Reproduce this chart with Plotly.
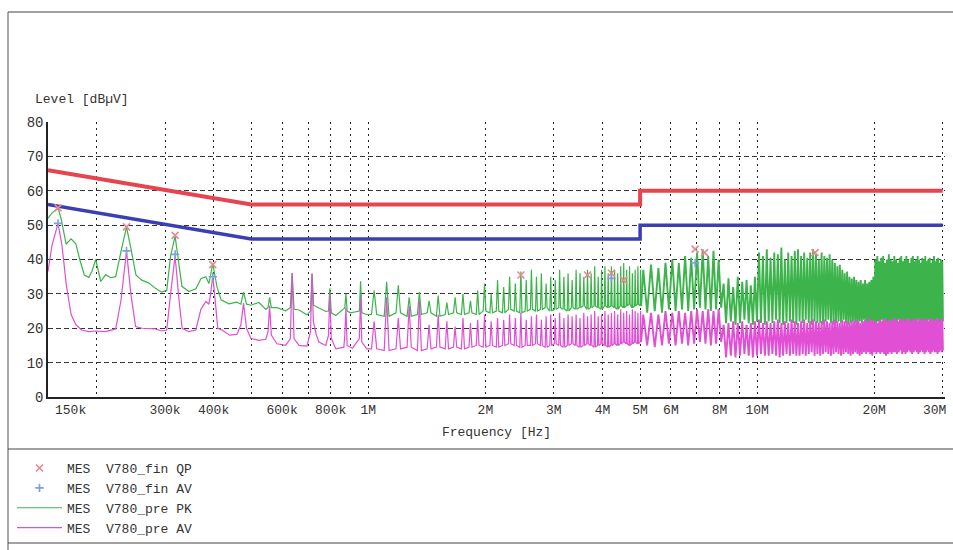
import math
import plotly.graph_objects as go

# ---------------- data ----------------
F0_KHZ = 79.6  # spacing of the interference harmonics (kHz)

# limit lines
limit_freq_khz = [150, 500, 5000, 5000, 30000]
limit_qp_dbuv = [66, 56, 56, 60, 60]
limit_av_dbuv = [56, 46, 46, 50, 50]

# pre-scan PK, low band (150 kHz .. 1 MHz)
pk_low_freq_khz = [150, 153.5, 159.2, 162, 167, 172, 177, 181, 186, 191,
                   194.5, 199, 205, 211, 217.5, 224, 231, 238.8, 245, 252.5,
                   261.5, 272, 283.5, 294, 303, 310, 318.4, 325.5, 331.5, 345.5,
                   360, 371, 382, 389, 398, 408, 418, 438, 459, 470,
                   477.6, 486, 499, 523, 545, 552, 557.2, 563, 582, 613,
                   630, 636.8, 644, 663, 695, 710, 716.4, 723, 746, 777,
                   790, 796, 803, 825, 865, 870, 875.6, 882, 900, 948,
                   955.2, 962, 990]
pk_low_dbuv = [52, 53.5, 55, 52, 44.5, 46, 44.5, 40, 35.5, 34.8,
               36.5, 40, 33.6, 35.6, 34.7, 35, 42.2, 49.4, 43.3, 35.5,
               34, 33.2, 31.6, 30.5, 31, 41, 46.8, 38.9, 32.2, 30.7,
               31.5, 34.4, 35, 33, 38.8, 32.1, 28.3, 27.1, 27.6, 27,
               30.5, 27, 26.7, 27.5, 25.5, 26, 29, 26, 26, 25.1,
               26, 36.1, 25.5, 25.3, 23.9, 25, 36, 26.7, 26, 24.9,
               25, 31.6, 24.5, 23.7, 25.7, 26, 30, 25, 24.5, 25,
               33.7, 24.5, 24]

# pre-scan AV, low band (150 kHz .. 1 MHz)
av_low_freq_khz = [150, 153.5, 159.2, 163, 167, 172, 177, 183, 191, 199,
                   211, 224, 231, 238.8, 245, 252, 262, 283, 294, 303,
                   310, 318.4, 326, 332, 345, 360, 371, 382, 389, 393,
                   398, 403, 410, 420, 440, 459, 470, 477.6, 486, 499,
                   523, 545, 552, 557.2, 563, 582, 613, 630, 636.8, 644,
                   663, 695, 710, 716.4, 722, 735, 746, 777, 790, 796,
                   803, 825, 865, 870, 875.6, 882, 910, 948, 955.2, 962,
                   990]
av_low_dbuv = [36.5, 44, 50.5, 44, 33, 24, 21, 19.5, 19, 19.2,
               19, 19.8, 28, 42.5, 30, 20.5, 20, 19.8, 19.2, 19.5,
               30, 41, 28, 20, 19, 19.5, 25.5, 27.8, 27, 30,
               35.5, 28, 20, 19.5, 18, 18.2, 21, 27.3, 20, 17,
               16.5, 16.8, 19, 26.5, 18, 15.5, 15, 17, 36, 17,
               15, 14.8, 19, 35.8, 22, 18, 16, 15, 18, 30,
               17, 14, 14.5, 18, 26, 15, 14.2, 17, 29, 16,
               14]

# harmonics 13..63 (1 MHz .. 5 MHz): peak and floor per harmonic
comb_orders = list(range(13, 64))
pk_comb_peak = [31, 33.5, 32.5, 29, 30.5, 28, 29.5, 27.5, 29, 30,
                28, 31, 33, 30, 34, 32, 35, 33, 36.5, 34,
                37, 35, 36, 33, 35, 34, 37, 35, 36, 34,
                37, 36, 35, 37, 36, 38, 35, 37, 38, 36,
                38, 37, 36, 38, 39, 37, 38, 36, 37, 38, 37]
pk_comb_floor = [24, 23.5, 24.5, 23.5, 24, 24.5, 23.5, 24, 24.5, 24,
                 24.5, 24, 25, 24.5, 25, 24.5, 25.5, 25, 24.5, 25,
                 25.5, 25, 25.5, 26, 25, 25.5, 26, 25.5, 25, 26,
                 25.5, 26, 26.5, 25.5, 26, 26.5, 26, 25.5, 26.5, 26,
                 26.5, 26, 25.5, 26.5, 26, 26.5, 27, 26, 26.5, 27, 26.5]
av_comb_peak = [22, 29, 23, 26.5, 28, 21, 24, 22, 20.5, 23,
                21.5, 22.5, 24, 22, 23, 22.5, 24, 23, 24.5, 22.5,
                23.5, 24, 22.5, 23.5, 24, 23, 24.5, 23, 24, 23.5,
                24, 23, 24.5, 23.5, 24, 25, 23.5, 24, 25, 24,
                24.5, 25, 24, 25.5, 24.5, 25, 24, 25.5, 25, 24.5, 25]
av_comb_floor = [14, 13.5, 14, 14.5, 13.5, 14, 14.5, 14, 14.5, 14,
                 14.5, 15, 14.5, 15, 14.5, 15, 15.5, 15, 14.5, 15,
                 15, 15.5, 15, 14.5, 15, 15.5, 15, 14.5, 15, 15.5,
                 15, 14.5, 15, 15.5, 15, 14.5, 15, 15.5, 15, 14.5,
                 15, 15.5, 15, 15.5, 16, 15.5, 15, 15.5, 16, 15.5, 16]

# every third harmonic 64..376 (5 MHz .. 30 MHz): peak and floor
dense_orders = list(range(64, 377, 3))
pk_dense_peak = [37, 38.5, 37.5, 39, 40, 39, 41, 40.5, 42, 43, 41, 42.5, 40,
                 33, 34.5, 32, 35, 33.5, 34, 32.5, 35,
                 42, 41, 43, 40.5, 42, 41.5, 43.5, 40, 42, 41, 42.5, 43,
                 41, 42, 40.5, 42, 43, 41.5, 40, 42, 41, 40.5, 41.5, 40,
                 39, 38, 38.5, 37, 36, 36.5, 35, 34.5, 35, 34, 33.5, 34,
                 33, 34, 33, 33.5, 34, 35,
                 40, 41, 39.5, 40.5, 41, 39, 40, 41.5, 40, 39.5,
                 41, 40, 39, 40.5, 41, 39.5, 40, 41, 40, 39,
                 40.5, 41, 39.5, 40, 41, 40, 39, 40.5, 40, 41,
                 39.5, 40, 40.5, 39, 40, 41, 39.5, 40, 40.5, 39,
                 40, 39.5]
pk_dense_floor = [24.5, 25, 24.5, 25.5, 25, 25.5, 25, 25.5, 26, 25.5, 25, 25.5, 26,
                  21.5, 22, 21, 21.5, 22.5, 21.5, 21, 22, 21.5, 21,
                  22, 21.5, 22.5, 21.5, 21, 21.5, 22, 21.5, 21, 22,
                  21.5, 22.5, 21.5, 21, 22, 21.5, 21.5, 21, 22, 22.5,
                  21.5, 21, 21.5, 22, 21.5, 22.5, 21.5, 21, 21.5, 22,
                  21.5, 21, 22, 21.5, 22.5, 21.5, 21, 22, 21.5, 21.5,
                  21, 22, 21.5, 22.5, 21.5, 21, 21.5, 22, 21.5, 21,
                  22, 21.5, 22.5, 22, 21.5, 21, 21.5, 22, 22.5, 21.5,
                  21, 21.5, 22, 21.5, 22.5, 21.5, 21, 22, 21.5, 22,
                  21.5, 22.5, 21.5, 21, 22, 21.5, 22, 22.5, 21.5, 21,
                  21.5, 22]
av_dense_peak = [24, 24.5, 24, 25, 24.5, 25, 24.5, 25, 25.5, 25, 25.5, 25, 25.5,
                 21, 21.5, 22, 21.5, 22, 21, 21.5, 22, 22.5, 21.5,
                 22, 21.5, 22, 22.5, 21.5, 22, 21.5, 22.5, 22, 21.5,
                 22, 22.5, 21.5, 22, 22.5, 22, 21.5, 22, 22.5, 22,
                 21.5, 22, 22.5, 22, 21.5, 22.5, 22, 22, 21.5, 22.5,
                 22, 22.5, 22, 21.5, 22, 22.5, 22, 23, 22, 22.5,
                 22, 21.5, 22.5, 22, 22.5, 23, 22, 22.5, 22, 22.5,
                 23, 22.5, 22, 22.5, 23, 22.5, 22, 22.5, 23, 22.5,
                 22, 22.5, 23, 22.5, 22, 23, 22.5, 22, 22.5, 23,
                 22.5, 22, 22.5, 23, 22.5, 22, 22.5, 23, 22.5, 22,
                 22.5, 23]
av_dense_floor = [15, 14.5, 15, 15.5, 15, 15.5, 15, 15.5, 16, 15.5, 15, 15.5, 16,
                  11.5, 12, 11.5, 12, 12.5, 12, 11.5, 12, 12.5, 12,
                  12, 12.5, 12, 11.5, 12, 12.5, 12, 12.5, 12, 12,
                  12.5, 12, 12.5, 13, 12, 12.5, 12, 12.5, 13, 12.5,
                  12, 12.5, 13, 12.5, 12, 12.5, 13, 12.5, 12, 12.5,
                  13, 12.5, 12, 12.5, 13, 12.5, 13, 12.5, 12, 13,
                  12.5, 13, 12.5, 13, 12.5, 12, 12.5, 13, 12.5, 13,
                  13, 12.5, 13, 13.5, 12.5, 13, 12.5, 13, 13.5, 13,
                  12.5, 13, 13.5, 13, 12.5, 13, 13.5, 13, 12.5, 13,
                  13.5, 13, 12.5, 13, 13.5, 13, 13, 12.5, 13, 13.5,
                  13, 13.5]

# final measurements (markers)
qp_final_freq_khz = [159.2, 238.8, 318.4, 398, 2468, 3662, 4219, 4537, 6925, 7323, 14089]
qp_final_dbuv = [55, 49.5, 47, 38.5, 35.5, 35.5, 36, 34, 43, 42, 42]
av_final_freq_khz = [159.2, 238.8, 318.4, 398, 4219, 6925]
av_final_dbuv = [50.5, 42.5, 41.5, 35, 34.5, 39]

# axis ticks / grid (150k and 30M are drawn as edge labels below)
x_grid_khz = [150, 200, 300, 400, 500, 600, 700, 800, 900, 1000,
              2000, 3000, 4000, 5000, 6000, 7000, 8000, 9000, 10000, 20000, 30000]
x_tick_text = ["", "", "300k", "400k", "", "600k", "", "800k", "", "1M",
               "2M", "3M", "4M", "5M", "6M", "", "8M", "", "10M", "20M", ""]
x_edge_labels = ["150k", "30M"]
y_ticks = [0, 10, 20, 30, 40, 50, 60, 70, 80]


# ---------------- build the traces from the arrays ----------------
def comb_part(low_f, low_v, comb_peak, comb_floor):
    xs, ys = list(low_f), list(low_v)
    for n, p, f in zip(comb_orders, comb_peak, comb_floor):
        xs += [(n - 0.2) * F0_KHZ, n * F0_KHZ, (n + 0.2) * F0_KHZ]
        ys += [f, p, f]
    return xs, ys


def dense_part(start_x, start_y, dense_peak, dense_floor):
    xs, ys = [start_x], [start_y]
    for n, p, f in zip(dense_orders, dense_peak, dense_floor):
        xs += [n * F0_KHZ, (n + 1.5) * F0_KHZ]
        ys += [p, f]
    return xs, ys


pk_x1, pk_y1 = comb_part(pk_low_freq_khz, pk_low_dbuv, pk_comb_peak, pk_comb_floor)
pk_x2, pk_y2 = dense_part(pk_x1[-1], pk_y1[-1], pk_dense_peak, pk_dense_floor)
av_x1, av_y1 = comb_part(av_low_freq_khz, av_low_dbuv, av_comb_peak, av_comb_floor)
av_x2, av_y2 = dense_part(av_x1[-1], av_y1[-1], av_dense_peak, av_dense_floor)

MONO = "Liberation Mono, Courier New, monospace"
GREEN, MAGENTA = "#3cb44b", "#e04fd4"
NB = "\u00a0"
fig = go.Figure()

fig.add_trace(go.Scatter(x=pk_x1, y=pk_y1, mode="lines", name="MES" + NB * 2 + "V780_pre PK",
                         legendgroup="pk", line=dict(color=GREEN, width=1.2), legendrank=3))
fig.add_trace(go.Scatter(x=pk_x2, y=pk_y2, mode="lines", name="MES" + NB * 2 + "V780_pre PK",
                         legendgroup="pk", showlegend=False, line=dict(color=GREEN, width=1.9)))
fig.add_trace(go.Scatter(x=av_x1, y=av_y1, mode="lines", name="MES" + NB * 2 + "V780_pre AV",
                         legendgroup="av", line=dict(color=MAGENTA, width=1.2), legendrank=4))
fig.add_trace(go.Scatter(x=av_x2, y=av_y2, mode="lines", name="MES" + NB * 2 + "V780_pre AV",
                         legendgroup="av", showlegend=False, line=dict(color=MAGENTA, width=1.9)))
fig.add_trace(go.Scatter(x=limit_freq_khz, y=limit_qp_dbuv, mode="lines", showlegend=False,
                         line=dict(color="#e6444f", width=4)))
fig.add_trace(go.Scatter(x=limit_freq_khz, y=limit_av_dbuv, mode="lines", showlegend=False,
                         line=dict(color="#3b3fb3", width=3.5)))
fig.add_trace(go.Scatter(x=qp_final_freq_khz, y=qp_final_dbuv, mode="markers",
                         name="MES" + NB * 2 + "V780_fin QP", legendrank=1,
                         marker=dict(symbol="x-thin", size=7,
                                     line=dict(color="#e58a92", width=1.6))))
fig.add_trace(go.Scatter(x=av_final_freq_khz, y=av_final_dbuv, mode="markers",
                         name="MES" + NB * 2 + "V780_fin AV", legendrank=2,
                         marker=dict(symbol="cross-thin", size=6,
                                     line=dict(color="#7f9fd6", width=1.6))))

L, R, T, B = 48, 8, 122, 153
W, H = 953, 550
PW, PH = W - L - R, H - T - B


def px(xp):
    return (xp - L) / PW


def py(yp):
    return (H - B - yp) / PH


label_font = dict(family=MONO, size=13, color="#333")
fig.update_layout(
    width=W, height=H,
    margin=dict(l=L, r=R, t=T, b=B, autoexpand=False),
    paper_bgcolor="white", plot_bgcolor="white",
    font=dict(family=MONO, size=13, color="#333"),
    showlegend=True,
    legend=dict(x=px(12), y=py(453), xanchor="left", yanchor="top",
                bgcolor="rgba(0,0,0,0)", itemwidth=45, traceorder="normal",
                font=label_font),
    xaxis=dict(type="log", range=[math.log10(150), math.log10(30000) + 0.006],
               tickmode="array", tickvals=x_grid_khz, ticktext=x_tick_text, tickangle=0,
               showgrid=True, gridcolor="#222", griddash="2px,4px",
               gridwidth=1.3, showline=True, linecolor="#222", linewidth=1.5, ticks="",
               zeroline=False, automargin=False, tickfont=dict(size=13),
               title=dict(text="Frequency [Hz]", standoff=10, font=dict(size=13))),
    yaxis=dict(range=[0, 80], tickmode="array", tickvals=y_ticks, showgrid=True,
               gridcolor="#333", griddash="5px,3px", gridwidth=1, showline=True,
               linecolor="#222", linewidth=1.5, ticks="", zeroline=False,
               automargin=False, tickfont=dict(size=14)),
    annotations=[
        dict(text="Level [dB\u00b5V]", xref="paper", yref="paper",
             x=px(33), y=py(100), xanchor="left", yanchor="middle",
             showarrow=False, font=label_font),
        dict(text=x_edge_labels[0], xref="paper", yref="paper",
             x=px(53), y=py(410), xanchor="left", yanchor="middle",
             showarrow=False, font=label_font),
        dict(text=x_edge_labels[1], xref="paper", yref="paper",
             x=px(948), y=py(410), xanchor="right", yanchor="middle",
             showarrow=False, font=label_font),
    ],
    shapes=[
        dict(type="line", xref="paper", yref="paper", x0=px(8), x1=px(8), y0=py(12), y1=py(550),
             line=dict(color="#555", width=1)),
        dict(type="line", xref="paper", yref="paper", x0=px(8), x1=px(953), y0=py(12), y1=py(12),
             line=dict(color="#444", width=1.2)),
        dict(type="line", xref="paper", yref="paper", x0=px(8), x1=px(953), y0=py(449), y1=py(449),
             line=dict(color="#444", width=1.2)),
        dict(type="line", xref="paper", yref="paper", x0=px(8), x1=px(953), y0=py(543), y1=py(543),
             line=dict(color="#444", width=1.2)),
    ],
)

fig.write_html("out.html", config={"displayModeBar": False},
               post_script="document.body.style.margin='0';document.body.style.overflow='hidden';")
